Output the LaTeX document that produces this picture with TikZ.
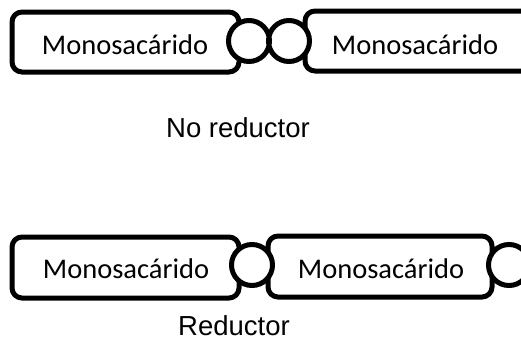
\documentclass[tikz,border=0pt]{standalone}
\usepackage{fontspec}
\setmainfont{Carlito}
\newfontfamily\labelfont{Liberation Sans}
\tikzset{
  sugar/.style={draw=black, line width=5pt, rounded corners=10pt, fill=white},
  bondfill/.style={fill=white},
  bond/.style={draw=black, line width=5pt},
  sugartext/.style={font=\fontsize{28.5}{30}\selectfont, inner sep=0pt, anchor=base},
  caption/.style={font=\labelfont\fontsize{27.5}{30}\selectfont, inner sep=0pt, anchor=base}
}
\begin{document}
\begin{tikzpicture}[x=1pt,y=-1pt]
\useasboundingbox (0,0) rectangle (521,340);
\clip (0,0) rectangle (521,340);

% upper pair: two rings joined head to head
\path[sugar] (12,12) rectangle (239,72);
\path[sugar] (305,11) rectangle (560,71);
\path[bondfill] (249,41) circle (20.5) (289,41) circle (20.5);
\path[bond] (249,41) circle (20.5) (289,41) circle (20.5);
\node[sugartext] (m1) at (125,54) {Monosacárido};
\node[sugartext] (m2) at (415,54) {Monosacárido};
\node[caption] (nr) at (238,137) {No reductor};

% lower pair: chained head to tail
\path[sugar] (12,237) rectangle (239,298);
\path[sugar] (268,236) rectangle (492,297);
\path[bondfill] (252,265) circle (20.5) (509,265) circle (20.5);
\path[bond] (252,265) circle (20.5) (509,265) circle (20.5);
\node[sugartext] (m3) at (126,278) {Monosacárido};
\node[sugartext] (m4) at (381,278) {Monosacárido};
\node[caption] (r) at (234,335) {Reductor};
\end{tikzpicture}
\end{document}
